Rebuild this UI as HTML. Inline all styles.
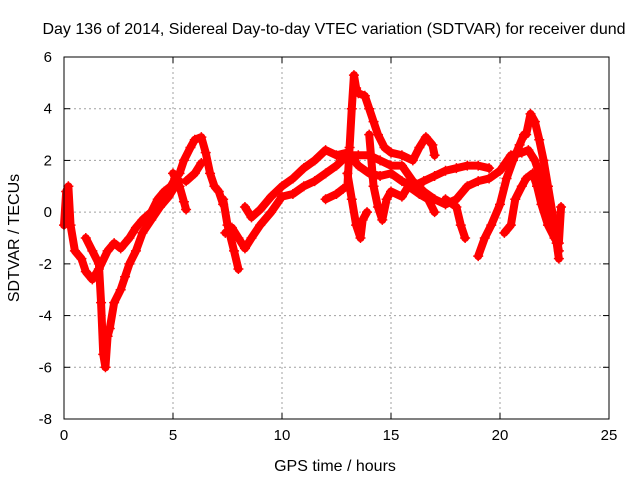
<!DOCTYPE html>
<html><head><meta charset="utf-8"><style>
body{margin:0;background:#fff}
svg{display:block;font-family:"Liberation Sans",sans-serif}
</style></head><body>
<svg id="chart" width="640" height="480">
<text x="334" y="34" font-size="16" text-anchor="middle">Day 136 of 2014, Sidereal Day-to-day VTEC variation (SDTVAR) for receiver dund</text>
<text x="335" y="471" font-size="16" text-anchor="middle">GPS time / hours</text>
<text x="19" y="238" font-size="16" text-anchor="middle" transform="rotate(-90 19 238)">SDTVAR / TECUs</text>
<g id="grid"></g><g id="ticks"></g><g id="marks"></g>
<rect x="64" y="57" width="545" height="362" fill="none" stroke="#000" stroke-width="1"/>
</svg>
<script>
const xTicks=[0,5,10,15,20,25];
const yTicks=[-8,-6,-4,-2,0,2,4,6];
const t1=[[0,-0.5],[0.1,0.8],[0.2,1.0],[0.3,-0.5],[0.5,-1.5],[0.8,-1.8],[1.0,-2.3],[1.3,-2.6],[1.6,-2.2],[2.0,-1.5],[2.3,-1.2],[2.6,-1.4],[3.0,-1.0],[3.3,-0.6],[3.6,-0.3],[4.0,0.0],[4.3,0.5],[4.6,0.8],[4.9,1.0],[5.1,1.3],[5.3,1.5],[5.5,2.0],[5.8,2.5],[6.0,2.8],[6.3,2.9],[6.5,2.3],[6.7,1.5],[6.9,1.0],[7.1,0.8],[7.3,0.3]];
const t2=[[1.0,-1.0],[1.3,-1.5],[1.6,-2.0],[1.7,-3.5],[1.8,-5.5],[1.9,-6.0],[2.0,-4.8],[2.1,-4.5],[2.3,-3.5],[2.6,-3.0],[2.8,-2.5],[3.0,-2.0],[3.3,-1.5],[3.6,-0.8],[4.0,-0.3],[4.4,0.2],[4.8,0.6],[5.1,1.0],[5.3,1.2]];
const t3=[[5.0,1.5],[5.3,1.0],[5.5,0.4],[5.6,0.1]];
const t4=[[5.6,1.2],[6.0,1.5],[6.3,1.9]];
const t5=[[7.3,0.5],[7.5,-0.5],[7.8,-1.5],[8.0,-2.2]];
const t6=[[7.4,-0.8],[7.7,-0.6],[8.0,-1.0],[8.3,-1.4],[8.6,-1.0],[9.0,-0.5],[9.5,0.0],[10.0,0.6],[10.5,0.7],[11.0,1.0],[11.5,1.2],[12.0,1.5],[12.5,1.8],[13.0,2.2],[13.5,2.2],[14.0,2.2],[14.5,2.0],[15.0,1.8],[15.5,1.8],[16.0,1.2],[16.5,0.8],[17.0,0.5],[17.5,0.3],[18.0,0.5],[18.5,1.0],[19.0,1.2],[19.5,1.3],[20.0,1.6],[20.5,2.2],[21.0,2.3],[21.3,2.4],[21.6,2.0],[21.8,1.5],[22.0,0.5],[22.3,-0.3],[22.6,-1.2],[22.7,-1.8]];
const t7=[[8.3,0.2],[8.6,-0.2],[9.0,0.1],[9.5,0.6],[10.0,1.0],[10.5,1.3],[11.0,1.7],[11.5,2.0],[12.0,2.4],[12.5,2.2],[13.0,2.3],[13.5,1.8],[14.0,1.5],[14.5,1.4],[15.0,1.5],[15.5,1.2],[16.0,1.0],[16.5,1.2],[17.0,1.4],[17.5,1.6],[18.0,1.7],[18.5,1.8],[19.0,1.8],[19.5,1.7]];
const t8=[[12.0,0.5],[12.5,0.7],[12.8,0.9],[13.0,1.0],[13.1,2.5],[13.2,4.0],[13.3,5.3],[13.4,4.8],[13.5,4.6],[13.8,4.5],[14.0,4.0],[14.2,3.5],[14.4,3.0],[14.7,2.5],[15.0,2.3],[15.5,2.2],[16.0,2.0],[16.3,2.5],[16.6,2.9],[16.9,2.6],[17.0,2.2]];
const t9=[[13.0,1.5],[13.2,0.5],[13.4,-0.5],[13.6,-1.0],[13.7,-0.3],[13.9,0.0]];
const t10=[[14.0,3.0],[14.2,1.0],[14.4,0.2],[14.6,-0.3],[14.8,0.5],[15.0,0.8],[15.5,0.6],[15.8,1.0],[16.3,0.7],[16.7,0.5],[17.0,0.0]];
const t11=[[17.5,0.5],[18.0,0.2],[18.2,-0.5],[18.4,-1.0]];
const t12=[[19.0,-1.7],[19.3,-1.0],[19.6,-0.5],[20.0,0.3],[20.3,1.3],[20.6,2.0],[20.9,2.6],[21.1,3.0]];
const t13=[[20.2,-0.8],[20.5,-0.5],[20.7,0.5],[21.0,1.0],[21.2,1.3],[21.5,1.5],[21.7,1.0],[21.9,0.3],[22.2,-0.5],[22.5,-1.0],[22.7,-1.2],[22.8,0.2]];
const t14=[[21.2,3.0],[21.4,3.8],[21.6,3.5],[21.8,2.8],[22.0,2.0],[22.2,1.0],[22.4,0.0],[22.6,-1.0],[22.7,-1.5]];
const tracks=[t1,t2,t3,t4,t5,t6,t7,t8,t9,t10,t11,t12,t13,t14];

const X0=64,X1=609,Y0=419,Y1=57;
function xs(v){return X0+(v-0)/(25-0)*(X1-X0);}
function ys(v){return Y0-(v+8)/(6+8)*(Y0-Y1);}
const NS='http://www.w3.org/2000/svg';
const grid=document.getElementById('grid'),ticks=document.getElementById('ticks'),marks=document.getElementById('marks');
function mk(tag,attrs,parent){const e=document.createElementNS(NS,tag);for(const k in attrs)e.setAttribute(k,attrs[k]);parent.appendChild(e);return e;}
xTicks.forEach(v=>{
  const x=xs(v);
  if(v>0&&v<25){const g=mk('line',{x1:x,x2:x,y1:Y1,y2:Y0,stroke:'#a0a0a0','stroke-dasharray':'2,3'},grid);
    
    }
  mk('line',{x1:x,x2:x,y1:Y0,y2:Y0-6,stroke:'#000'},ticks);
  mk('line',{x1:x,x2:x,y1:Y1,y2:Y1+6,stroke:'#000'},ticks);
  const t=mk('text',{x:x,y:Y0+21,'font-size':15,'text-anchor':'middle'},ticks);t.textContent=v;
  
  
});
yTicks.forEach(v=>{
  const y=ys(v);
  if(v>-8&&v<6){const g=mk('line',{x1:X0,x2:X1,y1:y,y2:y,stroke:'#a0a0a0','stroke-dasharray':'2,3'},grid);
    
    }
  mk('line',{x1:X0,x2:X0+6,y1:y,y2:y,stroke:'#000'},ticks);
  mk('line',{x1:X1,x2:X1-6,y1:y,y2:y,stroke:'#000'},ticks);
  const t=mk('text',{x:X0-12,y:y+5,'font-size':15,'text-anchor':'end'},ticks);t.textContent=v;
  
  
});
tracks.forEach((tr,i)=>{
  const pl=mk('polyline',{points:tr.map(p=>xs(p[0])+','+ys(p[1])).join(' '),fill:'none',stroke:'#ff0000','stroke-width':8,'stroke-linejoin':'round','stroke-linecap':'round'},marks);
  
  
  tr.forEach(p=>{
    const x=xs(p[0]),y=ys(p[1]);
    const m=mk('path',{d:`M${x-5},${y}H${x+5}M${x},${y-5}V${y+5}`,stroke:'#ff0000','stroke-width':1.5},marks);
    
    
  });
});
</script>
</body></html>
